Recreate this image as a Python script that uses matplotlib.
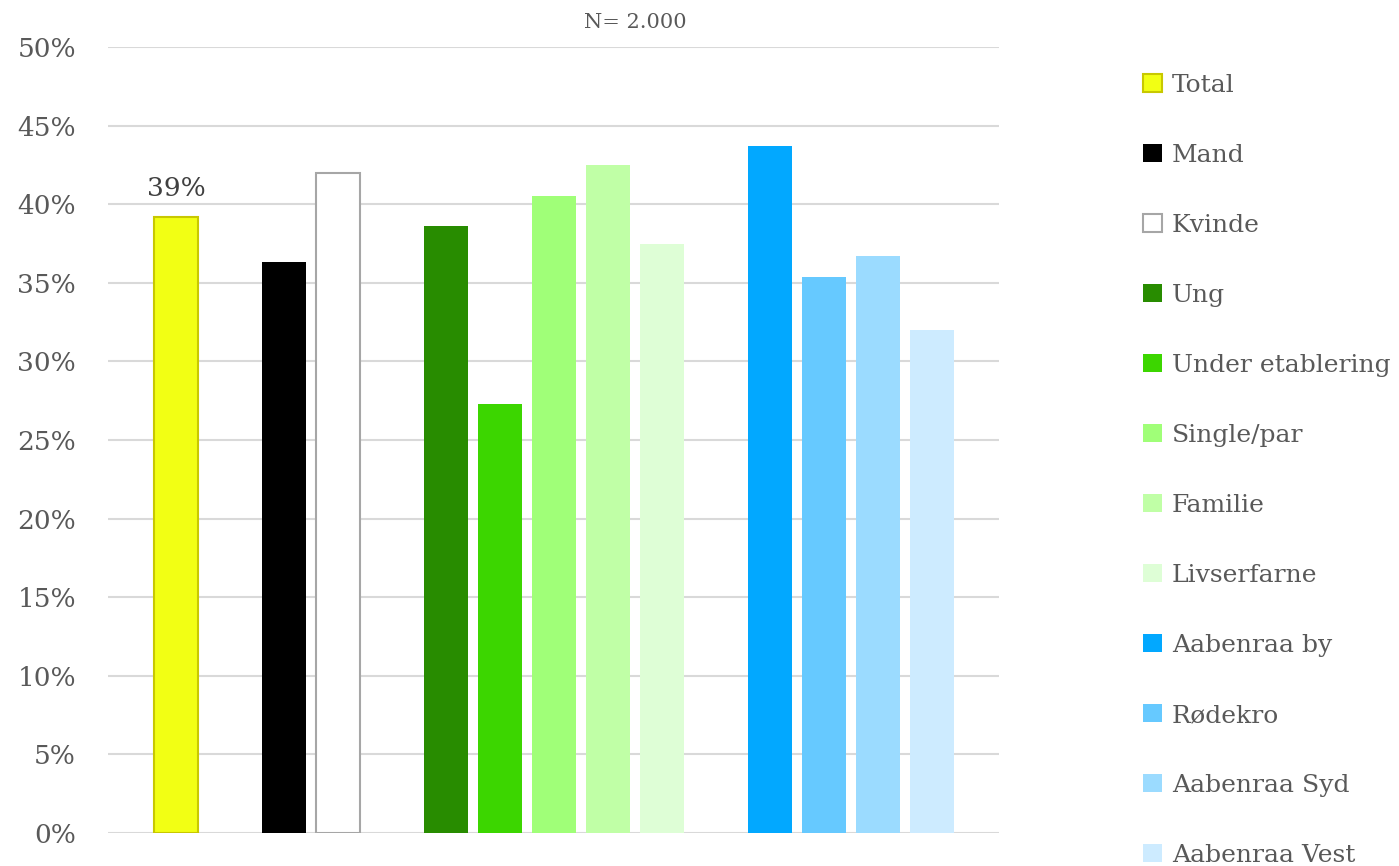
import numpy as np
import matplotlib.pyplot as plt

# Data
labels = ["Total", "Mand", "Kvinde", "Ung", "Under etablering", "Single/par",
          "Familie", "Livserfarne", "Aabenraa by", "Rødekro", "Aabenraa Syd",
          "Aabenraa Vest"]
values = [39.2, 36.3, 42.0, 38.6, 27.3, 40.5, 42.5, 37.5, 43.7, 35.4, 36.7, 32.0]
slots = [0, 2, 3, 5, 6, 7, 8, 9, 11, 12, 13, 14]  # blank slots separate the groups
colors = ["#f2ff14", "#000000", "#ffffff", "#288c00", "#3cd600", "#a0ff78",
          "#c0ffa6", "#defed6", "#02a8ff", "#66c9ff", "#9bdbff", "#cdebff"]
edges = ["#c8c800", "none", "#a6a6a6"] + ["none"] * 9
yticks = np.arange(0, 51, 5)

plt.rcParams['font.family'] = ['DejaVu Serif']

fig = plt.figure(figsize=(13.99, 8.66), dpi=100)
ax = fig.add_axes([108 / 1399, 1 - 833 / 866, (999 - 108) / 1399, (833 - 47) / 866])

for s, v, c, e, lab in zip(slots, values, colors, edges, labels):
    ax.bar(s, v, width=0.8, color=c, edgecolor=e, linewidth=1.5, label=lab, zorder=3)

ax.text(slots[0], values[0] + 1.0, f"{values[0]:.0f}%", ha="center", va="bottom",
        fontsize=19, color="#404040")

ax.set_xlim(-1.26, 15.24)
ax.set_ylim(0, 50)
ax.set_yticks(yticks)
ax.set_yticklabels([f"{t}%" for t in yticks])
ax.tick_params(axis="y", length=0, labelsize=19, labelcolor="#595959", pad=23)
ax.set_xticks([])
ax.grid(axis="y", color="#d9d9d9", linewidth=1.5, zorder=0)
for sp in ax.spines.values():
    sp.set_visible(False)

fig.text(635 / 1399, 1 - 22 / 866, "N= 2.000", ha="center", va="center",
         fontsize=15, color="#595959")

leg = ax.legend(loc="upper left", bbox_to_anchor=(1133 / 1399, 1 - 64 / 866),
                bbox_transform=fig.transFigure, frameon=False, fontsize=18,
                labelspacing=1.88, handlelength=0.75, handleheight=0.75,
                handletextpad=0.4, borderaxespad=0)
for t in leg.get_texts():
    t.set_color("#595959")

fig.savefig("out.png", dpi=100)
